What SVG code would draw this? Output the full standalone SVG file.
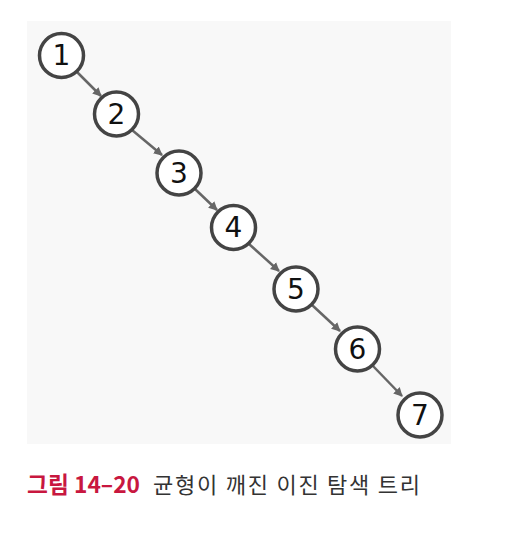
<svg xmlns="http://www.w3.org/2000/svg" width="512" height="534" viewBox="0 0 512 534">
<style>
.node circle{fill:#ffffff;stroke:#444444;stroke-width:3.5}
.node text{font-family:"DejaVu Sans","Noto Sans",sans-serif;font-size:28px;fill:#111111;text-anchor:middle;dominant-baseline:central}
.edge{stroke:#666666;stroke-width:2.5;fill:none;marker-end:url(#ah)}
.cap{font-family:"Noto Sans CJK KR","Noto Sans",sans-serif}
</style>
<defs>
<marker id="ah" markerWidth="10" markerHeight="10" refX="8" refY="5" orient="auto" markerUnits="userSpaceOnUse">
<path d="M0,0.5 L9,5 L0,9.5 Z" fill="#666666"/>
</marker>
</defs>
<rect x="27" y="21" width="424" height="423" fill="#f8f8f8"/>
<g id="connectors">
<line class="edge" x1="77" y1="72" x2="101" y2="96"/>
<line class="edge" x1="132" y1="130" x2="162" y2="155"/>
<line class="edge" x1="195" y1="189" x2="217" y2="210"/>
<line class="edge" x1="249" y1="244" x2="279" y2="271"/>
<line class="edge" x1="312" y1="305" x2="340" y2="331"/>
<line class="edge" x1="373" y1="366" x2="402" y2="396"/>
</g>
<g id="n1" class="node"><circle cx="61.5" cy="55.5" r="22"/><text x="61.5" y="55.5">1</text></g>
<g id="n2" class="node"><circle cx="116.5" cy="114" r="22"/><text x="116.5" y="114">2</text></g>
<g id="n3" class="node"><circle cx="179" cy="173" r="22"/><text x="179" y="173">3</text></g>
<g id="n4" class="node"><circle cx="233.5" cy="227.5" r="22"/><text x="233.5" y="227.5">4</text></g>
<g id="n5" class="node"><circle cx="296" cy="289" r="22"/><text x="296" y="289">5</text></g>
<g id="n6" class="node"><circle cx="357.5" cy="349" r="22"/><text x="357.5" y="349">6</text></g>
<g id="n7" class="node"><circle cx="420" cy="415" r="22"/><text x="420" y="415">7</text></g>
<text class="cap" x="27" y="493" font-size="23" font-weight="bold" fill="#c8173f" textLength="113" lengthAdjust="spacingAndGlyphs">그림 14–20</text>
<text class="cap" x="153" y="493" font-size="22" fill="#333333" textLength="267" lengthAdjust="spacing">균형이 깨진 이진 탐색 트리</text>
</svg>
